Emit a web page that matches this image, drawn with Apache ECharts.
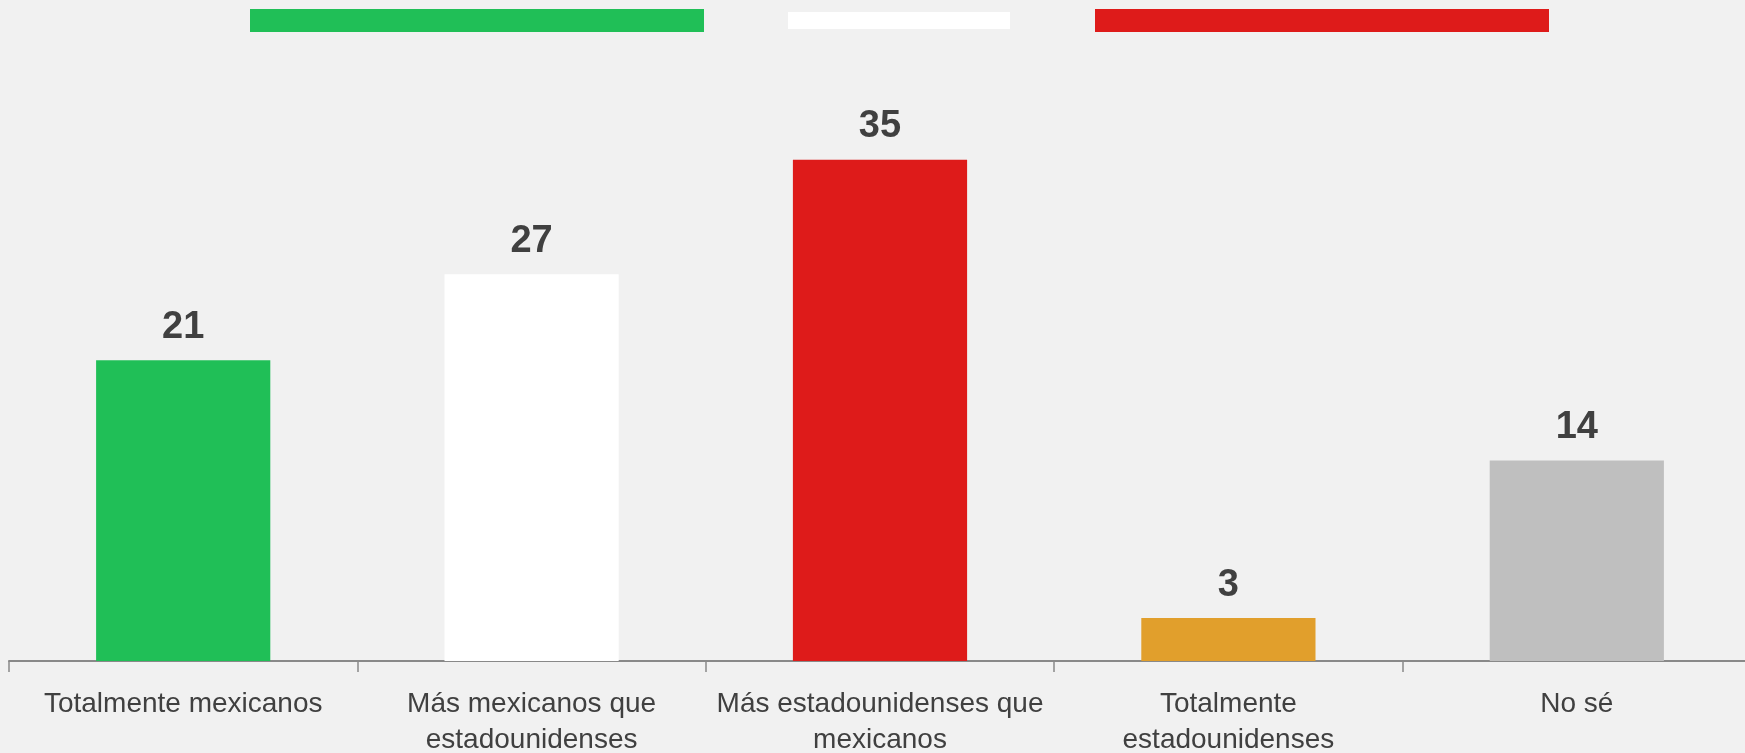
<!DOCTYPE html>
<html lang="es">
<head>
    <meta charset="UTF-8">
    <title>Identidad</title>
    <script src="https://cdn.jsdelivr.net/npm/echarts@6/dist/echarts.min.js"></script>
    <style>
        html, body { margin: 0; padding: 0; background: #f1f1f1; }
        #main { width: 1745px; height: 753px; }
    </style>
</head>
<body>
<div id="main"></div>
<script type="text/javascript">
    // datos
    var categorias = ['Totalmente mexicanos', 'Más mexicanos que\nestadounidenses', 'Más estadounidenses que\nmexicanos', 'Totalmente\nestadounidenses', 'No sé'];
    var valores = [21, 27, 35, 3, 14];
    var colores = ['#20bf57', '#ffffff', '#de1b1a', '#e19f2c', '#bfbfbf'];

    var myChart = echarts.init(document.getElementById('main'));

    var option = {
        backgroundColor: '#f1f1f1',
        animation: false,
        grid: { left: 9, width: 1742, top: 88, bottom: 92, containLabel: false, outerBoundsMode: 'none' },
        // franjas de la bandera arriba
        graphic: [
            { type: 'rect', shape: { x: 250, y: 9, width: 454, height: 23 }, style: { fill: '#20bf57' } },
            { type: 'rect', shape: { x: 788, y: 12, width: 222, height: 17 }, style: { fill: '#ffffff' } },
            { type: 'rect', shape: { x: 1095, y: 9, width: 454, height: 23 }, style: { fill: '#de1b1a' } }
        ],
        xAxis: {
            type: 'category',
            data: categorias,
            axisLine: { lineStyle: { color: '#898989', width: 2 } },
            axisTick: { show: true, length: 11, lineStyle: { color: '#898989', width: 1.5 } },
            axisLabel: {
                color: '#404040',
                fontFamily: 'Liberation Sans',
                fontSize: 28,
                lineHeight: 36,
                margin: 25,
                interval: 0
            }
        },
        yAxis: {
            type: 'value',
            min: 0,
            max: 40,
            show: false,
            splitLine: { show: false }
        },
        series: [{
            type: 'bar',
            barWidth: '50%',
            data: valores.map(function (v, i) {
                return { value: v, itemStyle: { color: colores[i] } };
            }),
            label: {
                show: true,
                position: 'top',
                distance: 14,
                color: '#404040',
                fontFamily: 'Liberation Sans',
                fontWeight: 'bold',
                fontSize: 38
            }
        }]
    };

    myChart.setOption(option);
</script>
</body>
</html>
